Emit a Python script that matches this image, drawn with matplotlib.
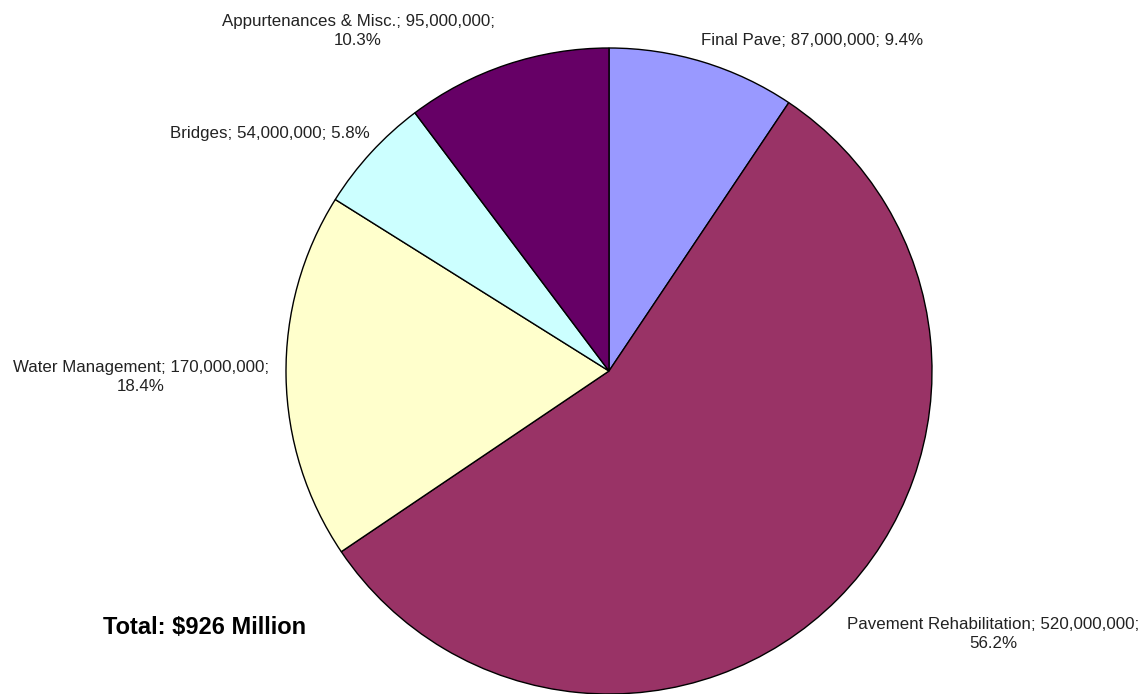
import matplotlib
matplotlib.use('Agg')
import matplotlib.pyplot as plt

plt.rcParams['font.family'] = ['Liberation Sans', 'DejaVu Sans']

# project cost breakdown, clockwise from 12 o'clock
names = ['Final Pave', 'Pavement Rehabilitation', 'Water Management',
         'Bridges', 'Appurtenances & Misc.']
costs = [87000000, 520000000, 170000000, 54000000, 95000000]
pcts = ['9.4%', '56.2%', '18.4%', '5.8%', '10.3%']
colors = ['#9999FF', '#993366', '#FFFFCC', '#CCFFFF', '#660066']
total_label = 'Total: $926 Million'

W, H = 1144, 694
fig = plt.figure(figsize=(W / 100, H / 100), dpi=100)
ax = fig.add_axes([0, 0, 1, 1])

cx, cy, r = 609, H - 371, 323
ax.pie(costs, colors=colors, startangle=90, counterclock=False,
       center=(cx, cy), radius=r, frame=True,
       wedgeprops=dict(edgecolor='black', linewidth=1))
ax.set_xlim(0, W)
ax.set_ylim(0, H)
ax.set_aspect('equal')
ax.axis('off')

# label placement (x, y from top, wrap?)
spots = [(812, 40, False), (993, 634, True), (141, 377, True),
         (270, 133, False), (358, 31, True)]
for n, c, p, (x, y, wrap) in zip(names, costs, pcts, spots):
    sep = '\n' if wrap else ' '
    txt = f'{n}; {c:,};{sep}{p}'
    ax.text(x, H - y, txt, ha='center', va='center', fontsize=12.2,
            color='#222222', linespacing=1.3)

ax.text(205, H - 627, total_label, ha='center', va='center',
        fontsize=17, fontweight='bold', color='black')

fig.savefig('out.png', dpi=100)
